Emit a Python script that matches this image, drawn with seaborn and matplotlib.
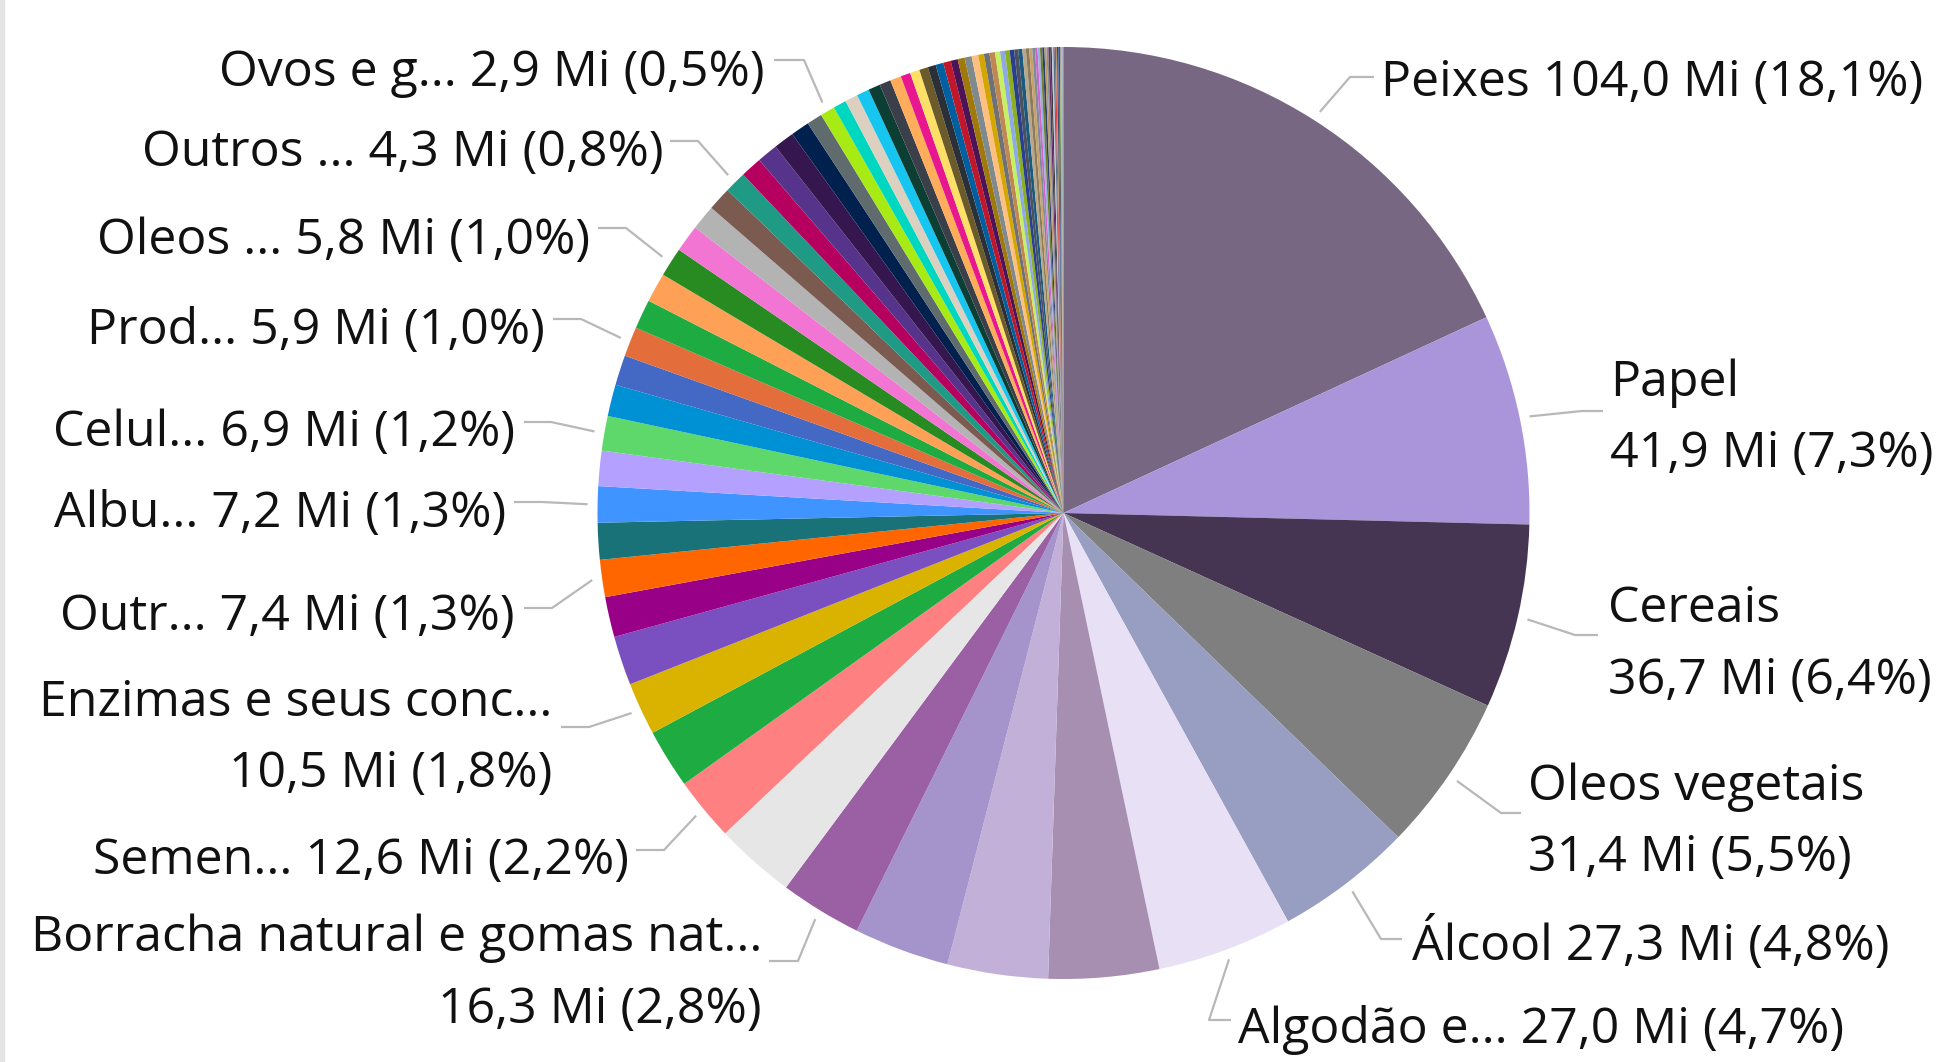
import matplotlib
matplotlib.use("Agg")
import matplotlib.pyplot as plt
import seaborn as sns
import numpy as np
from matplotlib.patches import Rectangle

sns.set_theme(style="white")
plt.rcParams["font.family"] = ["Open Sans", "DejaVu Sans"]

# Slice names as shown in the chart ("" = no visible label)
categories = [
    "Peixes", "Papel", "Cereais", "Oleos vegetais", "Álcool", "Algodão e...",
    "", "", "", "Borracha natural e gomas nat...", "", "Semen...", "", "Enzimas e seus conc...",
    "", "", "Outr...", "", "Albu...", "", "Celul...", "", "", "Prod...", "", "", "Oleos ...",
    "", "", "", "Outros ...", "", "", "", "", "", "Ovos e g...",
] + [""] * 55

# Values in millions
big_values = [104.0, 41.9, 36.7, 31.4, 27.3, 27.0]
mid_values = [22.0, 20.0, 19.0, 16.3, 16.0, 12.6, 11.8, 10.5]
small_values = [9.8, 8.0, 7.4, 7.3, 7.2, 7.0, 6.9, 6.3, 6.0, 5.9, 5.85, 5.85, 5.8,
                5.4, 5.0, 4.7, 4.34, 4.25, 4.15, 4.1, 3.7, 3.1, 2.9]
tiny_values = [2.6, 2.55, 2.5, 2.4, 2.25, 2.2, 1.95, 1.9, 1.75, 1.6, 1.55, 1.5, 1.4,
               1.4, 1.4, 1.3, 1.15, 1.1, 1.1, 1.0, 0.95, 0.95, 0.9, 0.8, 0.8]
tail_values = [0.7, 0.65, 0.6, 0.55, 0.5, 0.48, 0.45, 0.42, 0.4, 0.38, 0.35, 0.32, 0.3,
               0.28, 0.25, 0.22, 0.2, 0.18, 0.16, 0.14, 0.12, 0.1, 0.08, 0.07, 0.06,
               0.05, 0.04, 0.03, 0.02, 0.01]
values = big_values + mid_values + small_values + tiny_values + tail_values

colors = [
    "#786783", "#AA95DB", "#463552", "#7F7F7F", "#979EC1", "#E8E1F5",
    "#A68FB1", "#C3B0D8", "#A594CC", "#9B5FA4", "#E6E6E6", "#FF8080", "#1EAB41", "#D9B300",
    "#7A50C1", "#990088", "#FF6600", "#197278", "#3F94FF", "#B4A0FF", "#5ED86B", "#0091D5",
    "#4469C5", "#E36D3B", "#1EAB41", "#FFA057", "#288B22", "#F274D3", "#B3B3B3", "#7B5A4F",
    "#1F9A85", "#B5005F", "#56348B", "#36164F", "#00214E", "#5F6B6D", "#A8EB14",
    "#00D7C0", "#DCD0C0", "#16C6F0", "#0D3E34", "#3A3F4A", "#FFAD5A", "#E8178F", "#FFE066",
    "#6B5A2A", "#2B2F38", "#005FA0", "#C0182A", "#4A1457", "#9F7A0A", "#7F8A8F", "#FFBF80",
    "#D4A700", "#6E7278", "#C08850", "#C5F060", "#8FA8E8", "#8AB020", "#2A3F8F", "#4A5260",
    "#1A5A80",
    "#B8A888", "#8C7A5A", "#C9A26B", "#7D8C99", "#CC66CC", "#9AB0E0", "#6E7F2E", "#2F3C6E",
    "#B89C6A", "#8A8F96", "#6A2D6A", "#3B3B3B", "#C4C8D8", "#56708F", "#E0403A", "#A88A5C",
    "#22305A", "#3F62A8", "#1E1E1E", "#9ACD5A", "#8646A6", "#F2B89A", "#5E9E9E", "#A4A23E",
    "#3E6EC2", "#CFA0DE", "#5C5C5C", "#A3613E", "#3E9E44", "#D96C8A",
]

# Label layout in pixels (y measured from the top): text x, text line centres,
# leader line y, leader line end near the text, elbow x
label_layout = {
    "Peixes": dict(x=1381, ty=[78], ly=77, lx=1374, ex=1350, ha="left"),
    "Papel": dict(x=1610, ty=[378, 449], ly=411, lx=1603, ex=1582, ha="left"),
    "Cereais": dict(x=1608, ty=[604, 676], ly=635, lx=1598, ex=1575, ha="left"),
    "Oleos vegetais": dict(x=1528, ty=[782, 853], ly=813, lx=1521, ex=1501, ha="left"),
    "Álcool": dict(x=1412, ty=[939], ly=939, lx=1402, ex=1381, ha="left"),
    "Algodão e...": dict(x=1238, ty=[1025], ly=1020, lx=1231, ex=1209, ha="left"),
    "Ovos e g...": dict(x=765, ty=[68], ly=60, lx=774, ex=804, ha="right"),
    "Outros ...": dict(x=664, ty=[148], ly=141, lx=670, ex=698, ha="right"),
    "Oleos ...": dict(x=590, ty=[236], ly=228, lx=598, ex=626, ha="right"),
    "Prod...": dict(x=545, ty=[326], ly=319, lx=553, ex=581, ha="right"),
    "Celul...": dict(x=515, ty=[428], ly=422, lx=524, ex=551, ha="right"),
    "Albu...": dict(x=506, ty=[509], ly=502, lx=514, ex=542, ha="right"),
    "Outr...": dict(x=515, ty=[612], ly=608, lx=524, ex=552, ha="right"),
    "Enzimas e seus conc...": dict(x=552, ty=[698, 769], ly=727, lx=561, ex=589, ha="right"),
    "Semen...": dict(x=629, ty=[856], ly=850, lx=636, ex=664, ha="right"),
    "Borracha natural e gomas nat...": dict(x=762, ty=[933, 1005], ly=961, lx=769, ex=798, ha="right"),
}

W, H = 1945, 1062
CX, CY, R = 1063.5, 513, 466
LINE_R = 476
FONT_SIZE = 36
TEXT_SHIFT = 5  # matplotlib centres text slightly higher than the original renderer


def fmt_num(v):
    return f"{v:.1f}".replace(".", ",")


fig = plt.figure(figsize=(W / 100, H / 100), dpi=100)
ax = fig.add_axes([0, 0, 1, 1])
ax.pie(values, colors=colors, startangle=90, counterclock=False,
       center=(CX, H - CY), radius=R, wedgeprops=dict(linewidth=0))
ax.set_xlim(0, W)
ax.set_ylim(0, H)
ax.set_aspect("auto")
ax.axis("off")

total = sum(values)
cum = np.cumsum(values)
for i, name in enumerate(categories):
    if not name:
        continue
    lay = label_layout[name]
    v = values[i]
    mid = np.deg2rad(360 * (cum[i] - v / 2) / total)
    px = CX + LINE_R * np.sin(mid)
    py = CY - LINE_R * np.cos(mid)
    ax.plot([px, lay["ex"], lay["lx"]], [H - py, H - lay["ly"], H - lay["ly"]],
            color="#B8B8B8", lw=1.6, solid_capstyle="butt")
    val_text = f"{fmt_num(v)} Mi ({fmt_num(100 * v / total)}%)"
    if len(lay["ty"]) == 1:
        lines = [f"{name} {val_text}"]
    else:
        lines = [name, val_text]
    for txt, ty in zip(lines, lay["ty"]):
        ax.text(lay["x"], H - ty - TEXT_SHIFT, txt, ha=lay["ha"], va="center",
                fontsize=FONT_SIZE, color="#111111")

# light frame edge on the left
fig.patches.append(Rectangle((0, 0), 4 / W, 1, transform=fig.transFigure,
                             color="#E4E4E4", zorder=0))

plt.savefig("out.png", dpi=100)
plt.close()
